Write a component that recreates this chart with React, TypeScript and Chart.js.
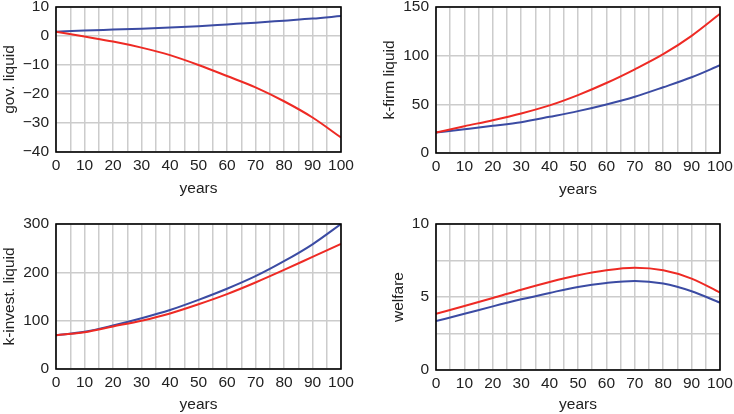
import React, { useEffect, useRef } from "react";
import { Chart, registerables } from "chart.js";

Chart.register(...registerables);

const years = [0, 10, 20, 30, 40, 50, 60, 70, 80, 90, 100];

const govBlue = [1.5, 1.9, 2.2, 2.5, 2.9, 3.4, 4.0, 4.6, 5.3, 6.0, 6.9];
const govRed = [1.5, -0.2, -1.9, -4.0, -6.6, -10.0, -13.8, -17.7, -22.5, -28.1, -35.0];

const firmRed = [21, 27.5, 33.7, 40.6, 48.9, 59.5, 71.9, 86, 101.5, 120.4, 143];
const firmBlue = [21, 24.4, 27.9, 31.7, 37.2, 43, 49.9, 57.8, 67.5, 77.8, 90.2];

const investBlue = [70, 77, 90, 105, 122, 143, 166, 192, 223, 258, 300];
const investRed = [70, 76, 88, 100, 115, 134, 155, 179, 205, 232, 259];

const welfareRed = [3.85, 4.38, 4.93, 5.5, 6.03, 6.49, 6.83, 7.0, 6.83, 6.26, 5.3];
const welfareBlue = [3.35, 3.85, 4.36, 4.84, 5.28, 5.69, 5.96, 6.1, 5.92, 5.39, 4.61];

const RED = "#ee2a24";
const BLUE = "#3b4ba3";
const GRID = "#cccccc";
const TEXT = "#222222";
const FONT = "'Liberation Sans', Arial, Helvetica, sans-serif";
const FSIZE = 15.5;

type PanelSpec = {
  left: number;
  top: number;
  yTitle: string;
  yMin: number;
  yMax: number;
  yStep: number;
  yLabelStep: number;
  red: number[];
  blue: number[];
  axisW: number;
  axisH: number;
  padTop: number;
  padRight: number;
  yTitlePad: number;
  xTitlePad: number;
};

const panels: PanelSpec[] = [
  { left: 0, top: 0, yTitle: "gov. liquid", yMin: -40, yMax: 10, yStep: 10, yLabelStep: 10, red: govRed, blue: govBlue, axisW: 56, axisH: 55, padTop: 7, padRight: 26, yTitlePad: 0, xTitlePad: 9 },
  { left: 367, top: 0, yTitle: "k-firm liquid", yMin: 0, yMax: 150, yStep: 50, yLabelStep: 50, red: firmRed, blue: firmBlue, axisW: 69, axisH: 54, padTop: 7, padRight: 14, yTitlePad: 13, xTitlePad: 8 },
  { left: 0, top: 207, yTitle: "k-invest. liquid", yMin: 0, yMax: 300, yStep: 100, yLabelStep: 100, red: investRed, blue: investBlue, axisW: 56, axisH: 45, padTop: 17, padRight: 26, yTitlePad: 0, xTitlePad: 0 },
  { left: 367, top: 207, yTitle: "welfare", yMin: 0, yMax: 10, yStep: 2.5, yLabelStep: 5, red: welfareRed, blue: welfareBlue, axisW: 69, axisH: 44, padTop: 17, padRight: 14, yTitlePad: 22, xTitlePad: 0 },
];

const borderPlugin = {
  id: "plotBorder",
  afterDraw(chart: any) {
    const { ctx, chartArea } = chart;
    ctx.save();
    ctx.strokeStyle = "#000";
    ctx.lineWidth = 1.6;
    ctx.strokeRect(chartArea.left, chartArea.top, chartArea.right - chartArea.left, chartArea.bottom - chartArea.top);
    ctx.restore();
  },
};

function Panel({ spec }: { spec: PanelSpec }) {
  const ref = useRef<HTMLCanvasElement | null>(null);
  useEffect(() => {
    if (!ref.current) return;
    const chart = new Chart(ref.current, {
      type: "line",
      data: {
        datasets: [
          {
            data: years.map((x, i) => ({ x, y: spec.red[i] })),
            borderColor: RED,
            borderWidth: 2,
            pointRadius: 0,
            cubicInterpolationMode: "monotone",
            fill: false,
          },
          {
            data: years.map((x, i) => ({ x, y: spec.blue[i] })),
            borderColor: BLUE,
            borderWidth: 2,
            pointRadius: 0,
            cubicInterpolationMode: "monotone",
            fill: false,
          },
        ],
      },
      options: {
        animation: false,
        responsive: false,
        maintainAspectRatio: false,
        devicePixelRatio: 1,
        layout: { padding: { left: 0, top: spec.padTop, right: spec.padRight, bottom: 0 } },
        plugins: { legend: { display: false }, tooltip: { enabled: false } },
        scales: {
          x: {
            type: "linear",
            min: 0,
            max: 100,
            afterFit: (s: any) => {
              s.height = spec.axisH;
              s.paddingLeft = 0;
              s.paddingRight = 0;
            },
            ticks: {
              stepSize: 5,
              autoSkip: false,
              maxRotation: 0,
              padding: 4,
              color: TEXT,
              font: { family: FONT, size: FSIZE },
              callback: (v: any) => (Number(v) % 10 === 0 ? String(v) : ""),
            },
            grid: { color: GRID, lineWidth: 1.5, drawTicks: false },
            border: { display: false },
            title: {
              display: true,
              text: "years",
              color: TEXT,
              font: { family: FONT, size: FSIZE },
              padding: { top: 0, bottom: spec.xTitlePad },
            },
          },
          y: {
            type: "linear",
            min: spec.yMin,
            max: spec.yMax,
            afterFit: (s: any) => {
              s.width = spec.axisW;
              s.paddingTop = 0;
              s.paddingBottom = 0;
            },
            ticks: {
              stepSize: spec.yStep,
              autoSkip: false,
              padding: 7,
              color: TEXT,
              font: { family: FONT, size: FSIZE },
              callback: (v: any) => {
                const n = Number(v);
                if (Math.abs(n / spec.yLabelStep - Math.round(n / spec.yLabelStep)) > 1e-6) return "";
                return n < 0 ? "\u2212" + String(Math.abs(n)) : String(n);
              },
            },
            grid: { color: GRID, lineWidth: 1.5, drawTicks: false },
            border: { display: false },
            title: {
              display: true,
              text: spec.yTitle,
              color: TEXT,
              font: { family: FONT, size: FSIZE },
              padding: { top: spec.yTitlePad, bottom: 0 },
            },
          },
        },
      },
      plugins: [borderPlugin],
    } as any);
    return () => chart.destroy();
  }, [spec]);
  return (
    <div style={{ position: "absolute", left: spec.left, top: spec.top, width: 367, height: 207 }}>
      <canvas ref={ref} width={367} height={207} style={{ width: 367, height: 207, display: "block" }} />
    </div>
  );
}

export default function App() {
  return (
    <div style={{ position: "fixed", left: 0, top: 0, width: 734, height: 414, background: "#fff" }}>
      {panels.map((p, i) => (
        <Panel key={i} spec={p} />
      ))}
    </div>
  );
}
